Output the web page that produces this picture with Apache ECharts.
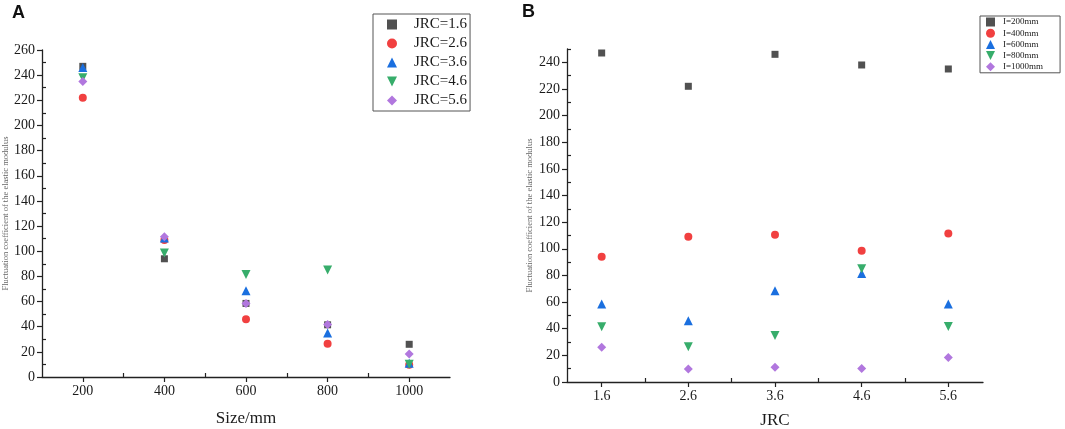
<!DOCTYPE html>
<html>
<head>
<meta charset="utf-8">
<style>
  html, body { margin: 0; padding: 0; background: #fff; }
  #chart { width: 1065px; height: 429px; }
</style>
<script src="https://cdn.jsdelivr.net/npm/echarts@6/dist/echarts.min.js"></script>
</head>
<body>
<div id="chart"></div>
<script>
// panel A: x = specimen size, one series per JRC
const sizes = [200, 400, 600, 800, 1000];
const jrcValues = [1.6, 2.6, 3.6, 4.6, 5.6];
const jrcNames = ['JRC=1.6', 'JRC=2.6', 'JRC=3.6', 'JRC=4.6', 'JRC=5.6'];
const sizeNames = ['I=200mm', 'I=400mm', 'I=600mm', 'I=800mm', 'I=1000mm'];

// fluctuation coefficient, rows = JRC, columns = size
const jrc16 = [247, 94, 58.5, 41.5, 26];
const jrc26 = [222, 109, 46, 26.5, 9.7];
const jrc36 = [246, 110.5, 68.5, 35, 11];
const jrc46 = [238, 98.5, 81.5, 85, 10.2];
const jrc56 = [235, 111.5, 58.5, 41.7, 18.3];

// tick labels / tick positions
const sizeTicks = [200, 400, 600, 800, 1000];
const sizeMinor = [300, 500, 700, 900];
const jrcMinor = [2.1, 3.1, 4.1, 5.1];
const yTicksA = [0, 20, 40, 60, 80, 100, 120, 140, 160, 180, 200, 220, 240, 260];
const yMinorA = [10, 30, 50, 70, 90, 110, 130, 150, 170, 190, 210, 230, 250];
const yTicksB = [0, 20, 40, 60, 80, 100, 120, 140, 160, 180, 200, 220, 240];
const yMinorB = [10, 30, 50, 70, 90, 110, 130, 150, 170, 190, 210, 230, 250];

const rows = [jrc16, jrc26, jrc36, jrc46, jrc56];

// Origin default colours / markers
const colors = ['#515151', '#F14040', '#1A6FDF', '#37AD6B', '#B177DE'];
const symbols = ['rect', 'circle', 'triangle', 'path://M0,0L10,0L5,10Z', 'diamond'];
const symSizes = [7, 8, 9, 9, 9];

const serif = 'Liberation Serif';
const ink = '#1a1a1a';

function plain(v) { return String(v); }

function mainX(grid, min, max, ticks, name, gap) {
  return {
    type: 'value', gridIndex: grid, min: min, max: max,
    name: name, nameLocation: 'middle', nameGap: gap,
    nameTextStyle: { fontFamily: serif, fontSize: 17, color: ink },
    axisLine: { lineStyle: { color: '#222', width: 1.3 } },
    axisTick: { show: true, inside: false, length: 5, customValues: ticks, lineStyle: { color: '#222', width: 1.2 } },
    axisLabel: { customValues: ticks, formatter: plain, fontFamily: serif, fontSize: 14, color: ink, margin: 7 },
    splitLine: { show: false }
  };
}
function minorX(grid, min, max, ticks) {
  return {
    type: 'value', gridIndex: grid, min: min, max: max, position: 'bottom',
    axisLine: { show: false },
    axisTick: { show: true, inside: true, length: 4, customValues: ticks, lineStyle: { color: '#222', width: 1.2 } },
    axisLabel: { show: false },
    splitLine: { show: false }
  };
}
function mainY(grid, min, max, ticks, gap) {
  return {
    type: 'value', gridIndex: grid, min: min, max: max,
    name: 'Fluctuation coefficient of the elastic modulus',
    nameLocation: 'middle', nameGap: gap,
    nameTextStyle: { fontFamily: serif, fontSize: 8.5, color: '#666' },
    axisLine: { show: true, lineStyle: { color: '#222', width: 1.3 } },
    axisTick: { show: true, inside: false, length: 5, customValues: ticks, lineStyle: { color: '#222', width: 1.2 } },
    axisLabel: { customValues: ticks, formatter: plain, fontFamily: serif, fontSize: 14, color: ink, margin: 7 },
    splitLine: { show: false }
  };
}
function minorY(grid, min, max, ticks) {
  return {
    type: 'value', gridIndex: grid, min: min, max: max, position: 'left', offset: 0,
    axisLine: { show: false },
    axisTick: { show: true, inside: true, length: 4, customValues: ticks, lineStyle: { color: '#222', width: 1.2 } },
    axisLabel: { show: false },
    splitLine: { show: false }
  };
}

const series = [];
// panel A
jrcNames.forEach(function (nm, k) {
  series.push({
    name: nm, type: 'scatter', xAxisIndex: 0, yAxisIndex: 0,
    symbol: symbols[k], symbolSize: symSizes[k],
    itemStyle: { color: colors[k], opacity: 1 },
    data: sizes.map(function (s, i) { return [s, rows[k][i]]; })
  });
});
// panel B
sizeNames.forEach(function (nm, i) {
  series.push({
    name: nm, type: 'scatter', xAxisIndex: 2, yAxisIndex: 2,
    symbol: symbols[i], symbolSize: symSizes[i],
    itemStyle: { color: colors[i], opacity: 1 },
    data: jrcValues.map(function (j, k) { return [j, rows[k][i]]; })
  });
});

const option = {
  animation: false,
  backgroundColor: '#fff',
  title: [
    { text: 'A', left: 12, top: 4, padding: 0, textStyle: { fontFamily: 'Liberation Sans', fontWeight: 'bold', fontSize: 18, color: '#111' } },
    { text: 'B', left: 522, top: 3, padding: 0, textStyle: { fontFamily: 'Liberation Sans', fontWeight: 'bold', fontSize: 18, color: '#111' } }
  ],
  legend: [
    {
      data: jrcNames, orient: 'vertical', left: 373, top: 14,
      padding: [3, 3, 3, 14], itemGap: 4, itemWidth: 10, itemHeight: 10,
      borderColor: '#555', borderWidth: 1,
      textStyle: { fontFamily: serif, fontSize: 15, color: ink, lineHeight: 15, padding: [0, 0, 0, 12] }
    },
    {
      data: sizeNames, orient: 'vertical', left: 980, top: 16,
      padding: [1, 17, 1, 6], itemGap: 1.2, itemWidth: 9, itemHeight: 9,
      borderColor: '#555', borderWidth: 1,
      textStyle: { fontFamily: serif, fontSize: 9, color: ink, lineHeight: 10, padding: [0, 0, 0, 3] }
    }
  ],
  grid: [
    { left: 42, right: 615, top: 50, bottom: 52, outerBoundsMode: 'none' },
    { left: 567, right: 82, top: 49, bottom: 47, outerBoundsMode: 'none' }
  ],
  xAxis: [
    mainX(0, 100, 1100, sizeTicks, 'Size/mm', 33),
    minorX(0, 100, 1100, sizeMinor),
    mainX(1, 1.2, 6.0, jrcValues, 'JRC', 30),
    minorX(1, 1.2, 6.0, jrcMinor)
  ],
  yAxis: [
    mainY(0, 0, 260, yTicksA, 32),
    minorY(0, 0, 260, yMinorA),
    mainY(1, 0, 250, yTicksB, 33),
    minorY(1, 0, 250, yMinorB)
  ],
  series: series
};

const chart = echarts.init(document.getElementById('chart'), null, { renderer: 'canvas' });
chart.setOption(option);
</script>
</body>
</html>
